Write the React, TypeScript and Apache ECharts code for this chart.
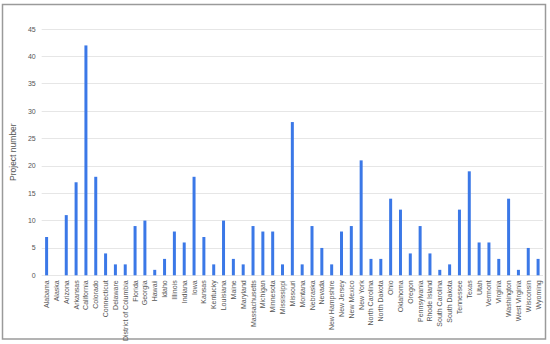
import React, { useEffect, useRef } from "react";
import * as echarts from "echarts";

const states = [
  "Alabama", "Alaska", "Arizona", "Arkansas", "California", "Colorado", "Connecticut", "Delaware",
  "District of Columbia", "Florida", "Georgia", "Hawaii", "Idaho", "Illinois", "Indiana", "Iowa",
  "Kansas", "Kentucky", "Louisiana", "Maine", "Maryland", "Massachusetts", "Michigan", "Minnesota",
  "Mississippi", "Missouri", "Montana", "Nebraska", "Nevada", "New Hampshire", "New Jersey",
  "New Mexico", "New York", "North Carolina", "North Dakota", "Ohio", "Oklahoma", "Oregon",
  "Pennsylvania", "Rhode Island", "South Carolina", "South Dakota", "Tennessee", "Texas", "Utah",
  "Vermont", "Virginia", "Washington", "West Virginia", "Wisconsin", "Wyoming",
];

const projects = [
  7, 0, 11, 17, 42, 18, 4, 2,
  2, 9, 10, 1, 3, 8, 6, 18,
  7, 2, 10, 3, 2, 9, 8, 8,
  2, 28, 2, 9, 5, 2, 8,
  9, 21, 3, 3, 14, 12, 4,
  9, 4, 1, 2, 12, 19, 6,
  6, 3, 14, 1, 5, 3,
];

const yTicks = { min: 0, max: 45, interval: 5 };

export default function App() {
  const ref = useRef<HTMLDivElement>(null);
  useEffect(() => {
    const chart = echarts.init(ref.current!, undefined, { renderer: "svg" });
    chart.setOption({
      animation: false,
      textStyle: { fontFamily: "Arial, 'Liberation Sans', sans-serif" },
      graphic: [
        {
          type: "rect",
          shape: { x: 2.5, y: 4.5, width: 543, height: 334.5 },
          style: { fill: "none", stroke: "#9a9a9a", lineWidth: 1.5 },
          silent: true,
        },
      ],
      grid: { left: 37, right: 7, top: 29, bottom: 68, containLabel: false },
      xAxis: {
        type: "category",
        data: states,
        axisTick: { show: false },
        axisLine: { show: false },
        axisLabel: {
          rotate: 90,
          interval: 0,
          fontSize: 7,
          color: "#555",
          margin: 5,
        },
      },
      yAxis: {
        type: "value",
        min: yTicks.min,
        max: yTicks.max,
        interval: yTicks.interval,
        name: "Project number",
        nameLocation: "middle",
        nameGap: 22,
        nameTextStyle: { fontSize: 8.5, color: "#555" },
        axisLabel: { fontSize: 7, color: "#555", margin: 6 },
        splitLine: { lineStyle: { color: "#e6e6e6", width: 1 } },
        axisLine: { show: false },
        axisTick: { show: false },
      },
      series: [
        {
          type: "bar",
          data: projects,
          barWidth: 3,
          itemStyle: { color: "#3b78e7" },
        },
      ],
    });
    return () => chart.dispose();
  }, []);
  return <div ref={ref} style={{ width: 550, height: 344, position: "absolute", left: 0, top: 0 }} />;
}
